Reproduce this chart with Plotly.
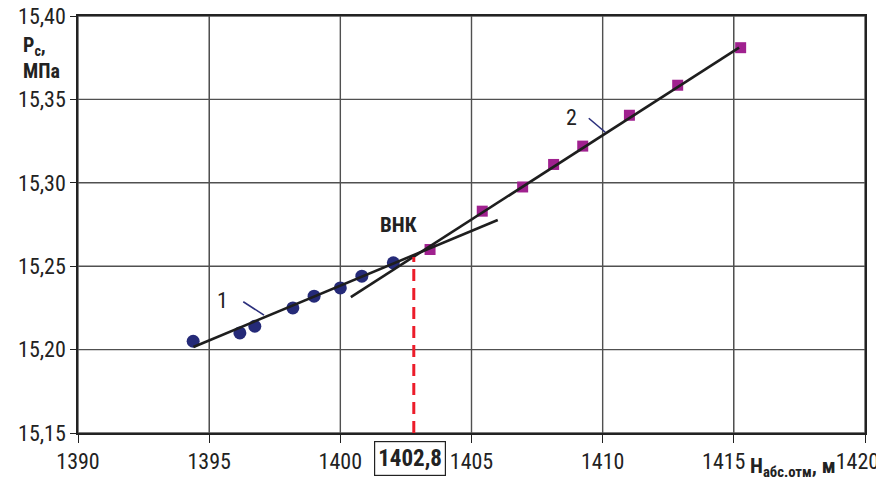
import plotly.graph_objects as go

# ---- data ----
s1_x = [1394.39, 1396.17, 1396.74, 1398.19, 1399.0, 1400.0, 1400.82, 1402.02]
s1_y = [15.205, 15.210, 15.214, 15.225, 15.232, 15.237, 15.244, 15.252]

s2_x = [1403.42, 1405.41, 1406.95, 1408.13, 1409.24, 1411.02, 1412.86, 1415.26]
s2_y = [15.260, 15.283, 15.2975, 15.311, 15.322, 15.3405, 15.3585, 15.381]

trend1_x = [1394.4, 1406.0]
trend1_y = [15.2016, 15.2777]
trend2_x = [1400.4, 1415.2]
trend2_y = [15.2315, 15.381]

vnk_x = [1402.8, 1402.8]
vnk_y = [15.15, 15.2555]
vnk_label = "1402,8"

NB = "\u00a0"
x_ticks = [1390, 1395, 1400, 1405, 1410, 1415, 1420]
# the 1415 and 1420 labels sit slightly left in the reference (room for the axis title / page edge)
x_ticktext = ["1390", "1395", "1400", "1405", "1410", "1415" + NB * 4, "1420" + NB * 3]
y_ticks = [15.15, 15.20, 15.25, 15.30, 15.35, 15.40]
y_ticktext = ["15,15", "15,20", "15,25", "15,30", "15,35", "15,40"]

leader1_x = [1396.30, 1397.09]
leader1_y = [15.2287, 15.2207]
leader2_x = [1409.47, 1410.10]
leader2_y = [15.3387, 15.3303]

FONT = "Liberation Sans Narrow, Arial Narrow, Roboto Condensed, Liberation Sans, sans-serif"
GRID = "#505050"

fig = go.Figure()

fig.add_trace(go.Scatter(x=s1_x, y=s1_y, mode="markers",
                         marker=dict(symbol="circle", size=13, color="#252a78"),
                         showlegend=False))
fig.add_trace(go.Scatter(x=s2_x, y=s2_y, mode="markers",
                         marker=dict(symbol="square", size=11, color="#a0218f"),
                         showlegend=False))
fig.add_trace(go.Scatter(x=trend1_x, y=trend1_y, mode="lines",
                         line=dict(color="#1e1e1e", width=2.6), showlegend=False))
fig.add_trace(go.Scatter(x=trend2_x, y=trend2_y, mode="lines",
                         line=dict(color="#1e1e1e", width=2.6), showlegend=False))
fig.add_trace(go.Scatter(x=vnk_x, y=vnk_y, mode="lines",
                         line=dict(color="#ec1c2a", width=3, dash="12px,7px"),
                         showlegend=False))
fig.add_trace(go.Scatter(x=leader1_x, y=leader1_y, mode="lines",
                         line=dict(color="#2b2f7c", width=1.6), showlegend=False))
fig.add_trace(go.Scatter(x=leader2_x, y=leader2_y, mode="lines",
                         line=dict(color="#2b2f7c", width=1.6), showlegend=False))

axis_common = dict(showgrid=True, gridcolor=GRID, gridwidth=1.4,
                   showline=True, linecolor="#222", linewidth=1.5, mirror=True,
                   ticks="outside", tickcolor="#222", tickwidth=1.3,
                   tickfont=dict(family=FONT, size=22, color="#222"),
                   ticklabeloverflow="allow",
                   zeroline=False, automargin=False, tickmode="array")

# the page body has an 8px default margin, so the figure is 8px smaller
fig.update_layout(
    template="none",
    width=876, height=477,
    margin=dict(l=70, r=19, t=8, b=52, autoexpand=False),
    paper_bgcolor="white", plot_bgcolor="white",
    showlegend=False,
    xaxis=dict(range=[1390, 1420], tickvals=x_ticks, ticktext=x_ticktext,
               ticklen=8, **axis_common),
    yaxis=dict(range=[15.15, 15.40], tickvals=y_ticks, ticktext=y_ticktext,
               ticklen=6, **axis_common),
)

# grid lines at every tick value (drawn beneath the data)
shapes = []
for xv in x_ticks:
    shapes.append(dict(type="line", xref="x", yref="paper", x0=xv, x1=xv, y0=0, y1=1,
                       line=dict(color=GRID, width=1.4), layer="below"))
for yv in y_ticks:
    shapes.append(dict(type="line", xref="paper", yref="y", x0=0, x1=1, y0=yv, y1=yv,
                       line=dict(color=GRID, width=1.4), layer="below"))

annotations = [
    dict(x=1395.51, y=15.2297, text="1", showarrow=False, xref="x", yref="y",
         font=dict(family=FONT, size=22, color="#222")),
    dict(x=1408.83, y=15.3394, text="2", showarrow=False, xref="x", yref="y",
         font=dict(family=FONT, size=22, color="#222")),
    dict(x=1402.21, y=15.2747, text="<b>ВНК</b>", showarrow=False, xref="x", yref="y",
         font=dict(family=FONT, size=21, color="#222")),
    dict(x=vnk_x[0], y=-0.062, xref="x", yref="paper", text="<b>" + vnk_label + "</b>",
         showarrow=False, xshift=-4, yanchor="middle",
         bordercolor="#222", borderwidth=1.2, borderpad=3, bgcolor="white",
         font=dict(family=FONT, size=23, color="#222")),
    dict(x=0.908, y=-0.082, xref="paper", yref="paper",
         text="<b>H<sub>абс.отм</sub>, м</b>", showarrow=False,
         xanchor="center", yanchor="middle",
         font=dict(family=FONT, size=21, color="#222")),
    dict(x=-0.072, y=0.90, xref="paper", yref="paper",
         text="<b>P<sub>с</sub>,<br>МПа</b>", showarrow=False, align="left",
         xanchor="left", yanchor="middle",
         font=dict(family=FONT, size=20, color="#222")),
]
fig.update_layout(annotations=annotations, shapes=shapes)

fig.write_html("out.html")
